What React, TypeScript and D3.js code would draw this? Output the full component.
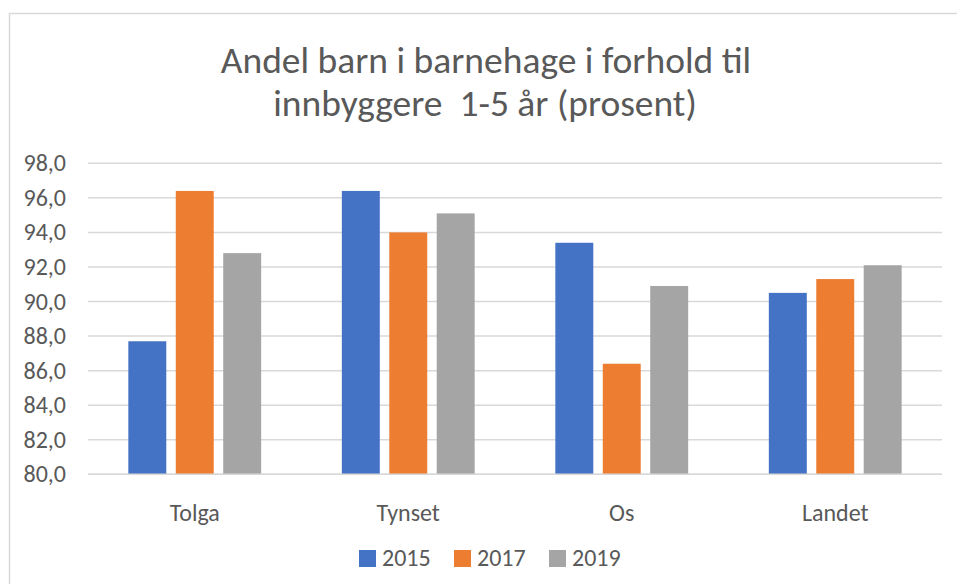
import React, { useEffect } from 'react';
import * as d3 from 'd3';

// chart data
const categories = ['Tolga', 'Tynset', 'Os', 'Landet'];
const seriesNames = ['2015', '2017', '2019'];
const values2015 = [87.7, 96.4, 93.4, 90.5];
const values2017 = [96.4, 94.0, 86.4, 91.3];
const values2019 = [92.8, 95.1, 90.9, 92.1];
const yTicks = [80, 82, 84, 86, 88, 90, 92, 94, 96, 98];
const colors = ['#4472C4', '#ED7D31', '#A5A5A5'];

const W = 957;
const H = 584;
const FONT = 'Calibri, Carlito, Lato, sans-serif';
const TEXT = '#595959';

const App = () => {
  useEffect(() => {
    document.body.style.margin = '0';
  }, []);

  const series = [values2015, values2017, values2019];

  const x0 = d3.scaleBand<string>()
    .domain(categories)
    .range([88, 942]);

  const x1 = d3.scaleBand<string>()
    .domain(seriesNames)
    .range([0, x0.bandwidth()])
    .paddingInner(0.2)
    .paddingOuter(0.85);

  const y = d3.scaleLinear()
    .domain([80, 98])
    .range([474.3, 163.3]);

  const fmt = (v: number) => d3.format('.1f')(v).replace('.', ',');

  return (
    <svg width={W} height={H} style={{ display: 'block', fontFamily: FONT }}>
      <rect x={0} y={0} width={W} height={H} fill="#fff" />
      {/* chart area border */}
      <rect x={9.5} y={13.5} width={W + 20} height={H + 20} fill="none" stroke="#d9d9d9" strokeWidth={1.5} />

      {/* title (Calibri Light in the original) */}
      <text x={486} y={73} textAnchor="middle" fontSize={37.5} fontWeight={300} fill={TEXT}>
        Andel barn i barnehage i forhold til
      </text>
      <text x={485} y={116} textAnchor="middle" fontSize={37.5} fontWeight={300} fill={TEXT} style={{ whiteSpace: 'pre' }}>
        {'innbyggere  1-5 år (prosent)'}
      </text>

      {/* gridlines + y ticks */}
      {yTicks.map(t => (
        <g key={t}>
          <line x1={88} x2={942} y1={y(t)} y2={y(t)} stroke="#d9d9d9" strokeWidth={1.5} />
          <text x={66} y={y(t) + 8} textAnchor="end" fontSize={24} fill={TEXT}>{fmt(t)}</text>
        </g>
      ))}

      {/* bars */}
      {categories.map((c, ci) => (
        <g key={c} transform={`translate(${x0(c)},0)`}>
          {seriesNames.map((s, si) => (
            <rect
              key={s}
              x={x1(s)}
              y={y(series[si][ci])}
              width={x1.bandwidth()}
              height={y(80) - y(series[si][ci])}
              fill={colors[si]}
            />
          ))}
        </g>
      ))}

      {/* baseline */}
      <line x1={88} x2={942} y1={y(80)} y2={y(80)} stroke="#d9d9d9" strokeWidth={1.5} />

      {/* category labels */}
      {categories.map(c => (
        <text key={c} x={(x0(c) as number) + x0.bandwidth() / 2} y={521} textAnchor="middle" fontSize={24} fill={TEXT}>
          {c}
        </text>
      ))}

      {/* legend */}
      {seriesNames.map((s, i) => (
        <g key={s} transform={`translate(${359 + i * 95},0)`}>
          <rect x={0} y={550} width={17} height={17} fill={colors[i]} />
          <text x={23} y={566} fontSize={24} fill={TEXT}>{s}</text>
        </g>
      ))}
    </svg>
  );
};

export default App;
